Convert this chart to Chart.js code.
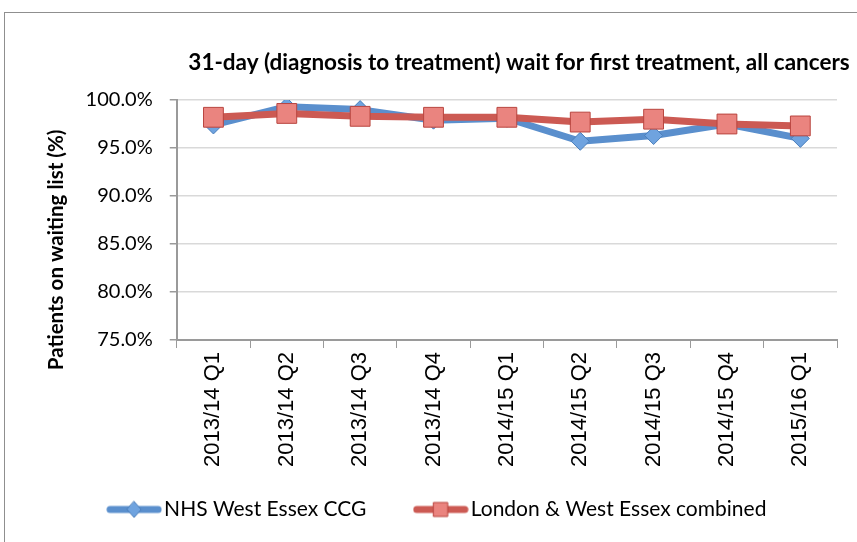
<html lang="en">
  <head>
    <meta charset="utf-8">
    <title>31-day wait for first treatment, all cancers</title>
    <style>
      body { margin: 0; background: white; }
      .chartBox { position: relative; width: 857px; height: 542px; overflow: hidden; }
      .frame { position: absolute; left: 4px; top: 12px; width: 900px; height: 600px; border: 1.5px solid #8f8f8f; }
      canvas { position: absolute; left: 0; top: 0; }
    </style>
  </head>
  <body>
    <div class="chartBox">
      <div class="frame"></div>
      <canvas id="myChart" width="857" height="542"></canvas>
    </div>

    <script src="https://cdn.jsdelivr.net/npm/chart.js/dist/chart.umd.min.js"></script>
    <script>
    // data
    const quarters = ['2013/14 Q1','2013/14 Q2','2013/14 Q3','2013/14 Q4','2014/15 Q1','2014/15 Q2','2014/15 Q3','2014/15 Q4','2015/16 Q1'];
    const westEssexCCG = [97.4, 99.3, 99.0, 97.9, 98.1, 95.7, 96.3, 97.5, 96.0];
    const londonWestEssex = [98.2, 98.6, 98.3, 98.2, 98.2, 97.7, 98.0, 97.5, 97.3];
    const yMin = 75, yMax = 100, yStep = 5;

    const chartTitle = '31-day (diagnosis to treatment) wait for first treatment, all cancers';

    const blueLine = '#5a8fcd', blueFill = '#6fa3df', blueEdge = '#4a7ebb';
    const redLine = '#cc5a53', redFill = '#ea847f', redEdge = '#b9453f';

    // little line + marker picture for the legend
    function legendIcon(line, fill, edge, diamond){
      const c = document.createElement('canvas');
      c.width = 56; c.height = 22;
      const g = c.getContext('2d');
      g.strokeStyle = line; g.lineWidth = 7; g.lineCap = 'round';
      g.beginPath(); g.moveTo(4, 11); g.lineTo(52, 11); g.stroke();
      g.fillStyle = fill; g.strokeStyle = edge; g.lineWidth = 1;
      g.beginPath();
      if (diamond) {
        g.moveTo(28, 3); g.lineTo(35, 11); g.lineTo(28, 19); g.lineTo(21, 11); g.closePath();
      } else {
        g.rect(21, 4, 14, 14);
      }
      g.fill(); g.stroke();
      return c;
    }

    // title sits a bit right of centre, like the Excel original
    const topTitle = {
      id: 'topTitle',
      afterDraw(chart){
        const {ctx} = chart;
        ctx.save();
        ctx.font = 'bold 22.5px Lato, sans-serif';
        ctx.fillStyle = '#000';
        ctx.textAlign = 'center';
        ctx.textBaseline = 'middle';
        ctx.fillText(chartTitle, 519, 63);
        ctx.restore();
      }
    };

    Chart.defaults.font.family = 'Lato, sans-serif';
    Chart.defaults.color = '#000';

    const data = {
      labels: quarters,
      datasets: [{
        label: 'NHS West Essex CCG',
        data: westEssexCCG,
        borderColor: blueLine,
        borderWidth: 7,
        borderJoinStyle: 'round',
        backgroundColor: blueFill,
        pointStyle: 'rectRot',
        pointRadius: 9,
        pointBorderColor: blueEdge,
        pointBorderWidth: 1,
        pointBackgroundColor: blueFill,
        tension: 0,
        order: 2
      },{
        label: 'London & West Essex combined',
        data: londonWestEssex,
        borderColor: redLine,
        borderWidth: 7,
        borderJoinStyle: 'round',
        backgroundColor: redFill,
        pointStyle: 'rect',
        pointRadius: 14,
        pointBorderColor: redEdge,
        pointBorderWidth: 1,
        pointBackgroundColor: redFill,
        tension: 0,
        order: 1
      }]
    };

    const icons = [legendIcon(blueLine, blueFill, blueEdge, true), legendIcon(redLine, redFill, redEdge, false)];
    // extra gap after the first legend entry
    const legendGap = ['     ', ''];

    const config = {
      type: 'line',
      data,
      options: {
        responsive: false,
        animation: false,
        layout: { padding: { left: 44, right: 20, top: 100, bottom: 12 } },
        scales: {
          x: {
            offset: true,
            grid: { display: true, drawOnChartArea: false, offset: true, tickLength: 8, tickColor: '#9a9a9a' },
            border: { color: '#9a9a9a', width: 2 },
            ticks: {
              font: { family: '"Liberation Sans", Arial, sans-serif', size: 22 },
              minRotation: 90, maxRotation: 90, padding: 4, autoSkip: false
            }
          },
          y: {
            min: yMin, max: yMax,
            ticks: {
              stepSize: yStep,
              font: { size: 20 },
              padding: 17,
              callback: v => v.toFixed(1) + '%'
            },
            grid: { color: '#d9d9d9', lineWidth: 1.5, tickLength: 7, tickColor: '#9a9a9a' },
            border: { color: '#9a9a9a', width: 2 },
            title: {
              display: true,
              // trailing spaces push the text down the axis as in the original
              text: 'Patients on waiting list (%)            ',
              font: { size: 20.5, weight: 'bold' },
              padding: { top: 0, bottom: 0 }
            }
          }
        },
        plugins: {
          title: { display: false },
          legend: {
            position: 'bottom',
            labels: {
              font: { size: 21 },
              usePointStyle: true,
              pointStyleWidth: 39,
              padding: 28,
              generateLabels: chart => chart.data.datasets.map((ds, i) => ({
                text: ds.label + legendGap[i],
                pointStyle: icons[i],
                datasetIndex: i,
                hidden: false,
                lineWidth: 0,
                fontColor: '#000'
              })),
              sort: (a, b) => a.datasetIndex - b.datasetIndex
            }
          },
          tooltip: { enabled: false }
        }
      },
      plugins: [topTitle]
    };

    const myChart = new Chart(document.getElementById('myChart'), config);
    </script>
  </body>
</html>
